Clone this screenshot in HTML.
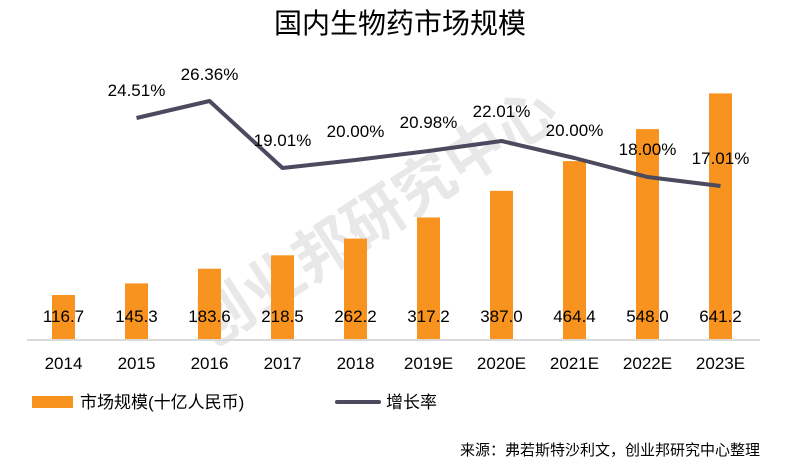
<!DOCTYPE html><html><head><meta charset="utf-8"><style>body{margin:0;background:#fff}svg{display:block}text{font-family:"Liberation Sans","Noto Sans CJK SC",sans-serif}</style></head><body>
<svg width="787" height="476" xmlns="http://www.w3.org/2000/svg">
<text x="400" y="33" font-size="28" text-anchor="middle" fill="#000">国内生物药市场规模</text>
<text x="375" y="238" font-size="60" font-weight="bold" fill="#e8e8e8" text-anchor="middle" transform="rotate(-33 375 218)">创业邦研究中心</text>
<line x1="27" y1="340" x2="760" y2="340" stroke="#d9d9d9" stroke-width="2"/>
<g fill="#f7931e">
<rect x="52" y="295" width="23" height="44"/>
<rect x="125" y="283.4" width="23" height="55.6"/>
<rect x="198" y="268.7" width="23" height="70.3"/>
<rect x="271" y="255.3" width="23" height="83.7"/>
<rect x="344" y="238.6" width="23" height="100.4"/>
<rect x="417" y="217.5" width="23" height="121.5"/>
<rect x="490" y="190.8" width="23" height="148.2"/>
<rect x="563" y="161.1" width="23" height="177.9"/>
<rect x="636" y="129.1" width="23" height="209.9"/>
<rect x="709" y="93.4" width="23" height="245.6"/>
</g>
<g font-size="17" text-anchor="middle" fill="#000">
<text x="63.5" y="322">116.7</text><text x="136.5" y="322">145.3</text><text x="209.5" y="322">183.6</text><text x="282.5" y="322">218.5</text><text x="355.5" y="322">262.2</text><text x="428.5" y="322">317.2</text><text x="501.5" y="322">387.0</text><text x="574.5" y="322">464.4</text><text x="647.5" y="322">548.0</text><text x="720.5" y="322">641.2</text>
<text x="63.5" y="369">2014</text><text x="136.5" y="369">2015</text><text x="209.5" y="369">2016</text><text x="282.5" y="369">2017</text><text x="355.5" y="369">2018</text><text x="428.5" y="369">2019E</text><text x="501.5" y="369">2020E</text><text x="574.5" y="369">2021E</text><text x="647.5" y="369">2022E</text><text x="720.5" y="369">2023E</text>
</g>
<polyline fill="none" stroke="#4b4a5e" stroke-width="4" stroke-linejoin="round" points="136.5,118 209.5,101 282.5,168 355.5,160 428.5,151 501.5,141 574.5,158 647.5,177 720.5,186"/>
<g font-size="17" text-anchor="middle" fill="#000">
<text x="136.5" y="96">24.51%</text><text x="209.5" y="80">26.36%</text><text x="282.5" y="146">19.01%</text><text x="355.5" y="137">20.00%</text><text x="428.5" y="128">20.98%</text><text x="501.5" y="117">22.01%</text><text x="574.5" y="136">20.00%</text><text x="647.5" y="155">18.00%</text><text x="720.5" y="164">17.01%</text>
</g>
<rect x="32" y="396" width="41" height="12" fill="#f7931e"/>
<text x="80" y="408" font-size="17" fill="#000">市场规模(十亿人民币)</text>
<line x1="337" y1="402" x2="379" y2="402" stroke="#4b4a5e" stroke-width="4" stroke-linecap="round"/>
<text x="386" y="408" font-size="17" fill="#000">增长率</text>
<text x="760" y="455" font-size="15" text-anchor="end" fill="#000">来源：弗若斯特沙利文，创业邦研究中心整理</text>
</svg></body></html>
